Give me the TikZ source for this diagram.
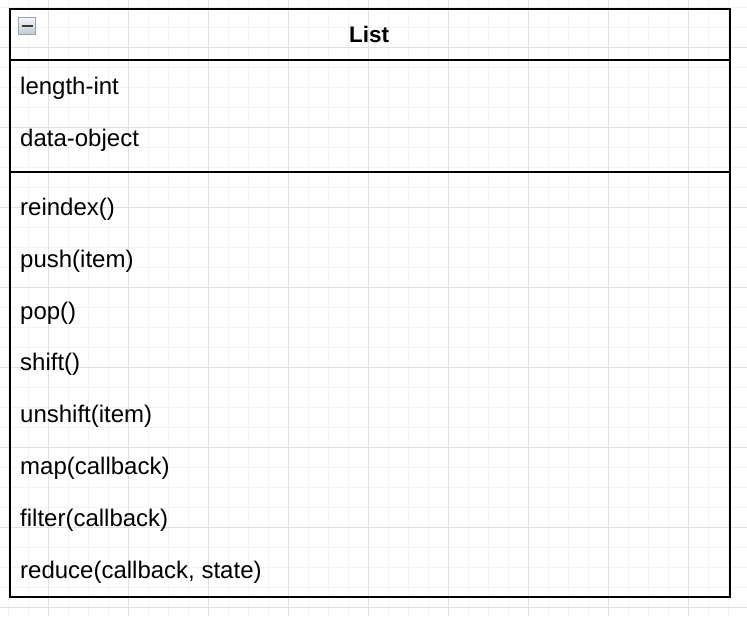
\documentclass[tikz,border=0pt]{standalone}
\usepackage{fontspec}
\setmainfont{Liberation Sans}
\usetikzlibrary{calc}
\definecolor{gridminor}{HTML}{F3F3F3}
\definecolor{gridmajor}{HTML}{E0E0E0}
\definecolor{iconedge}{HTML}{9AA4AE}
\definecolor{icontop}{HTML}{F4F7FA}
\definecolor{iconbottom}{HTML}{BCC9D6}
\definecolor{icondash}{HTML}{3A3A3A}
\begin{document}
\begin{tikzpicture}[x=1pt,y=-1pt,
  classbox/.style={draw=black, line width=2.4pt, inner sep=0pt, anchor=north west},
  divider/.style={draw=black, line width=2.4pt},
  member/.style={anchor=base west, inner sep=0pt, font=\fontsize{24}{28}\selectfont},
  classname/.style={anchor=base, inner sep=0pt, font=\fontsize{22.5}{26}\selectfont\bfseries},
  collapse/.style={draw=iconedge, line width=0.8pt, top color=icontop, bottom color=iconbottom,
    minimum size=17.5pt, inner sep=0pt}]
\useasboundingbox (0,0) rectangle (747,616);
\fill[white] (0,0) rectangle (747,616);
% background grid
\foreach \x in {8,28,...,747} \draw[gridminor, line width=1pt] (\x,0) -- (\x,616);
\foreach \y in {7,27,...,616} \draw[gridminor, line width=1pt] (0,\y) -- (747,\y);
\foreach \x in {48,128,...,747} \draw[gridmajor, line width=1pt] (\x,0) -- (\x,616);
\foreach \y in {47,127,...,616} \draw[gridmajor, line width=1pt] (0,\y) -- (747,\y);
% class box
\node[classbox, minimum width=720pt, minimum height=588pt] (box) at (9,8) {};
\draw[divider] (box.north west) ++(0,52) coordinate (hl) -- (hl -| box.east);
\draw[divider] (box.north west) ++(0,164) coordinate (ml) -- (ml -| box.east);
% collapse toggle
\node[collapse] (toggle) at (27,26) {};
\draw[icondash, line width=2.8pt] ($(toggle.center)+(-5.5,0)$) -- ($(toggle.center)+(5.5,0)$);
% class name
\node[classname] (title) at (369,42) {List};
% attributes
\node[member] (attr1) at (20,94.5) {length-int};
\node[member] (attr2) at (20,146.3) {data-object};
% methods
\node[member] (m1) at (20,215.5) {reindex()};
\node[member] (m2) at (20,267.3) {push(item)};
\node[member] (m3) at (20,319.1) {pop()};
\node[member] (m4) at (20,370.9) {shift()};
\node[member] (m5) at (20,422.7) {unshift(item)};
\node[member] (m6) at (20,474.5) {map(callback)};
\node[member] (m7) at (20,526.3) {filter(callback)};
\node[member] (m8) at (20,578.1) {reduce(callback, state)};
\end{tikzpicture}
\end{document}
